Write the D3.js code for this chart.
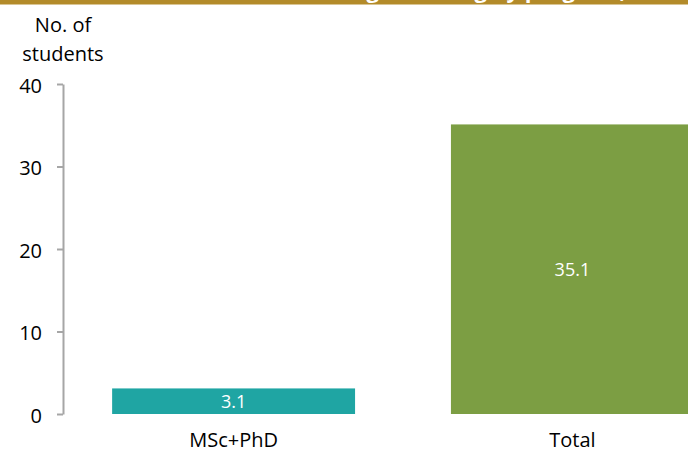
<!DOCTYPE html>
<html><head><meta charset="utf-8">
<script src="https://cdn.jsdelivr.net/npm/d3@7"></script>
<style>body{margin:0;background:#fff}svg{display:block}text{font-family:"Open Sans","Noto Sans",sans-serif}</style>
</head><body><svg id="c" width="688" height="455"></svg>
<script>
const categories = ["MSc+PhD", "Total"];
const values = [3.1, 35.1];
const colors = ["#1fa5a3", "#7c9e43"];
const yTicks = [0, 10, 20, 30, 40];
const title = "Number of students graduating by program, 2019";

const svg = d3.select("#c");
// top band
svg.append("rect").attr("x",0).attr("y",0).attr("width",688).attr("height",4.5).attr("fill","#b38b2a");
svg.append("clipPath").attr("id","band").append("rect").attr("x",0).attr("y",0).attr("width",688).attr("height",4.5);
svg.append("text").attr("clip-path","url(#band)").attr("x",682).attr("y",-2).attr("text-anchor","end")
  .attr("fill","#fff").attr("font-weight","bold").attr("font-size",22).text(title);

const y = d3.scaleLinear().domain([0,40]).range([414,84]);
const x = d3.scaleBand().domain(categories).range([63,743]).paddingInner(0.283).paddingOuter(0.145);

const ax = svg.append("g").attr("transform","translate(63,0)")
  .call(d3.axisLeft(y).tickValues(yTicks).tickSize(6).tickPadding(15).tickSizeOuter(0));
ax.select(".domain").attr("stroke","#a6a6a6").attr("stroke-width",2);
ax.selectAll(".tick line").attr("stroke","#a6a6a6").attr("stroke-width",2);
ax.selectAll(".tick text").attr("font-size",20).attr("fill","#000").attr("dy","0.4em");

svg.selectAll("rect.bar").data(categories).enter().append("rect").attr("class","bar")
  .attr("x",d=>x(d)).attr("width",x.bandwidth())
  .attr("y",(d,i)=>y(values[i])).attr("height",(d,i)=>y(0)-y(values[i]))
  .attr("fill",(d,i)=>colors[i]);

svg.selectAll("text.val").data(categories).enter().append("text").attr("class","val")
  .attr("x",d=>x(d)+x.bandwidth()/2).attr("y",(d,i)=>(y(values[i])+y(0))/2)
  .attr("dy","0.36em").attr("text-anchor","middle").attr("fill","#fff").attr("font-size",18)
  .text((d,i)=>values[i].toFixed(1));

svg.selectAll("text.cat").data(categories).enter().append("text").attr("class","cat")
  .attr("x",d=>x(d)+x.bandwidth()/2).attr("y",447).attr("text-anchor","middle")
  .attr("fill","#000").attr("font-size",20).text(d=>d);

svg.append("text").attr("x",63).attr("y",32).attr("text-anchor","middle").attr("font-size",20).text("No. of");
svg.append("text").attr("x",63).attr("y",61).attr("text-anchor","middle").attr("font-size",20).text("students");
</script></body></html>
